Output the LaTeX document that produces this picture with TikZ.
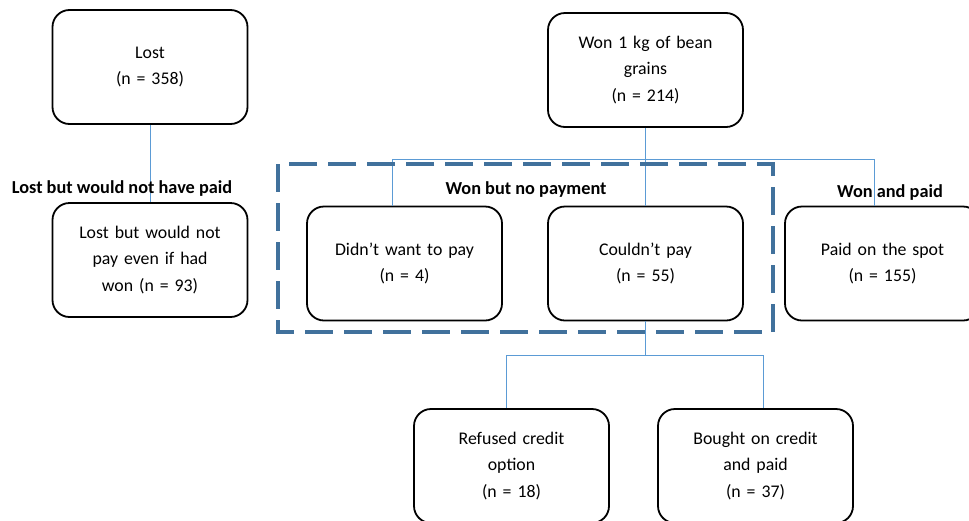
\documentclass[tikz,border=0pt]{standalone}
\usepackage{fontspec}
\setmainfont{Carlito}
\usepackage{xcolor}
\usepackage{tikz}

\definecolor{linkblue}{RGB}{91,155,213}
\definecolor{groupblue}{RGB}{65,113,156}

\begin{document}
\begin{tikzpicture}[x=1pt, y=-1pt,
    box/.style={draw, line width=1.8pt, rounded corners=17pt,
        minimum width=195pt, minimum height=114pt, text width=185pt,
        align=center, font=\fontsize{17.8}{26.5}\selectfont},
    link/.style={linkblue, line width=0.9pt},
    grouplabel/.style={font=\fontsize{18.3}{20}\selectfont\bfseries},
    groupbox/.style={groupblue, line width=3.5pt, dash pattern=on 28pt off 11pt}]
    \clip (0,0) rectangle (969,520);
    \useasboundingbox (0,0) rectangle (969,520);

    % Boxes
    \node[box] (lost) at (150,67) {Lost\\(n = 358)};
    \node[box] (lostbut) at (150,260) {Lost but would not\\pay even if had\\won (n = 93)};
    \node[box] (won) at (645.5,70) {Won 1 kg of bean\\grains\\(n = 214)};
    \node[box] (didnt) at (404.5,263.5) {Didn’t want to pay\\(n = 4)};
    \node[box] (couldnt) at (645.5,263.5) {Couldn’t pay\\(n = 55)};
    \node[box] (paid) at (882.5,263.5) {Paid on the spot\\(n = 155)};
    \node[box] (refused) at (511.5,466) {Refused credit\\option\\(n = 18)};
    \node[box] (bought) at (755.5,466) {Bought on credit\\and paid\\(n = 37)};

    % Connectors
    \draw[link] (lost) -- (lostbut);
    \draw[link] (won.south) -- ++(0,32) coordinate (bus);
    \draw[link] ([xshift=-12pt]didnt.north) |- (bus) -| ([xshift=-8pt]paid.north);
    \draw[link] (bus) -- (couldnt.north);
    \draw[link] (couldnt.south) -- ++(0,34) coordinate (bus2);
    \draw[link] ([xshift=-5pt]refused.north) |- (bus2) -| ([xshift=8pt]bought.north);

    % Group of winners who did not pay
    \draw[groupbox] (278,164) rectangle (773,332);

    % Group labels
    \node[grouplabel] (lostlabel) at (122,189) {Lost but would not have paid};
    \node[grouplabel] (nopaylabel) at (526,190) {Won but no payment};
    \node[grouplabel] (paidlabel) at (890,193) {Won and paid};
\end{tikzpicture}
\end{document}
